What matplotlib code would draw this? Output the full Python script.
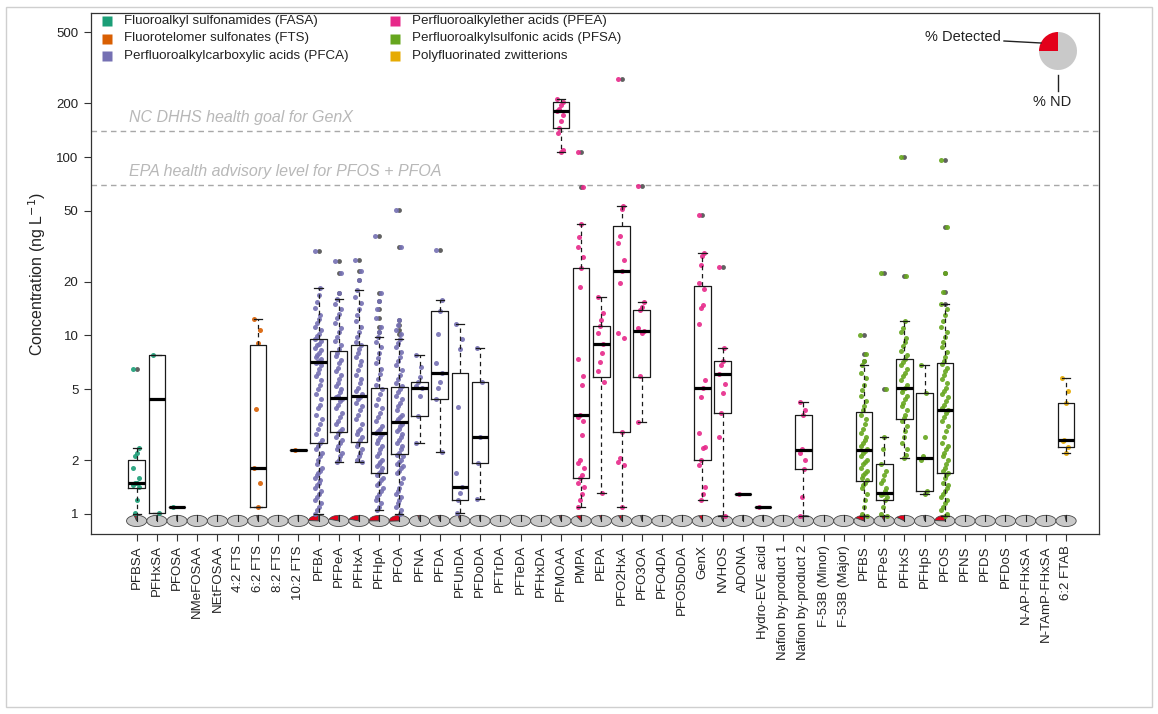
import numpy as np
import matplotlib
matplotlib.use("Agg")
import matplotlib.pyplot as plt
from matplotlib.patches import Wedge, Rectangle
from matplotlib.lines import Line2D
from matplotlib.transforms import Affine2D

plt.rcParams['font.family'] = ['Liberation Sans', 'DejaVu Sans']

# ---------------------------------------------------------------- data
compounds = [
    "PFBSA", "PFHxSA", "PFOSA", "NMeFOSAA", "NEtFOSAA",
    "4:2 FTS", "6:2 FTS", "8:2 FTS", "10:2 FTS",
    "PFBA", "PFPeA", "PFHxA", "PFHpA", "PFOA", "PFNA", "PFDA", "PFUnDA",
    "PFDoDA", "PFTrDA", "PFTeDA", "PFHxDA",
    "PFMOAA", "PMPA", "PEPA", "PFO2HxA", "PFO3OA", "PFO4DA", "PFO5DoDA",
    "GenX", "NVHOS", "ADONA", "Hydro-EVE acid", "Nafion by-product 1",
    "Nafion by-product 2", "F-53B (Minor)", "F-53B (Major)",
    "PFBS", "PFPeS", "PFHxS", "PFHpS", "PFOS", "PFNS", "PFDS", "PFDoS",
    "N-AP-FHxSA", "N-TAmP-FHxSA", "6:2 FTAB",
]

# compound class index (into class_names)
compound_class = [0] * 5 + [1] * 4 + [2] * 12 + [3] * 15 + [4] * 8 + [5] * 3

class_names = [
    "Fluoroalkyl sulfonamides (FASA)",
    "Fluorotelomer sulfonates (FTS)",
    "Perfluoroalkylcarboxylic acids (PFCA)",
    "Perfluoroalkylether acids (PFEA)",
    "Perfluoroalkylsulfonic acids (PFSA)",
    "Polyfluorinated zwitterions",
]
class_colors = ["#1b9e77", "#d95f02", "#7570b3", "#e7298a", "#66a61e", "#e6ab02"]

# share of samples with a detection
detected_frac = [
    0.04, 0.01, 0.005, 0.0, 0.0,
    0.0, 0.02, 0.0, 0.005,
    0.24, 0.20, 0.20, 0.25, 0.26, 0.03, 0.03, 0.03, 0.01, 0.0, 0.0, 0.0,
    0.03, 0.08, 0.03, 0.05, 0.02, 0.0, 0.0, 0.06, 0.03, 0.005, 0.005, 0.0,
    0.02, 0.0, 0.0,
    0.16, 0.05, 0.14, 0.02, 0.24, 0.0, 0.0, 0.0,
    0.0, 0.0, 0.02,
]

# box statistics (ng/L); None where nothing was detected
whisker_low = [
    1.0, 1.01, 1.1, None, None, None, 1.1, None, 2.28,
    1.0, 1.95, 1.95, 1.05, 1.0, 2.51, 2.21, 1.01, 1.21, None, None, None,
    107, 1.1, 1.31, 1.1, 3.29, None, None, 1.2, 0.97, 1.3, 1.1, None, 0.97,
    None, None,
    0.97, 0.97, 2.05, 1.3, 0.97, None, None, None, None, None, 2.19,
]
quartile_1 = [
    1.40, 1.01, 1.1, None, None, None, 1.1, None, 2.28,
    2.49, 2.87, 2.54, 1.70, 2.17, 3.54, 4.41, 1.2, 1.94, None, None, None,
    145, 1.585, 5.83, 2.89, 5.88, None, None, 2.01, 3.66, 1.3, 1.1, None, 1.78,
    None, None,
    1.52, 1.2, 3.41, 1.35, 1.70, None, None, None, None, None, 2.38,
]
median = [
    1.50, 4.39, 1.1, None, None, None, 1.81, None, 2.28,
    7.07, 4.45, 4.56, 2.85, 3.28, 5.06, 6.19, 1.41, 2.69, None, None, None,
    182, 3.59, 8.92, 23.1, 10.6, None, None, 5.06, 6.09, 1.3, 1.1, None, 2.28,
    None, None,
    2.28, 1.31, 5.06, 2.05, 3.83, None, None, None, None, None, 2.6,
]
quartile_3 = [
    2.0, 7.73, 1.1, None, None, None, 8.8, None, 2.28,
    9.5, 8.14, 8.9, 5.06, 5.17, 5.51, 13.8, 6.19, 5.51, None, None, None,
    204, 23.8, 11.35, 41.1, 13.9, None, None, 18.9, 7.22, 1.3, 1.1, None, 3.59,
    None, None,
    3.71, 1.9, 7.36, 4.74, 7.04, None, None, None, None, None, 4.17,
]
whisker_high = [
    2.34, 7.73, 1.1, None, None, None, 12.4, None, 2.28,
    18.5, 16.0, 18.0, 9.8, 9.6, 7.78, 15.9, 11.6, 8.48, None, None, None,
    210, 42.1, 16.5, 53.2, 15.5, None, None, 28.9, 8.48, 1.3, 1.1, None, 4.26,
    None, None,
    6.8, 2.69, 12.1, 6.83, 15.0, None, None, None, None, None, 5.75,
]

# detected concentrations (ng/L) per compound
detected_values = [
    [6.45, 2.34, 2.19, 2.1, 1.81, 1.6, 1.5, 1.5, 1.45, 1.42, 1.2, 1.01],
    [7.73, 1.01],
    [1.1],
    [], [], [],
    [12.4, 10.7, 9.1, 3.86, 1.81, 1.49, 1.1],
    [],
    [2.28],
    [29.9, 18.5, 16.8, 15.5, 14.2, 13.0, 12.4, 11.8, 11.2, 10.7, 10.2, 9.9,
     9.6, 9.3, 9.0, 8.8, 8.5, 8.3, 8.0, 7.8, 7.6, 7.4, 7.2, 7.1, 7.0, 6.8,
     6.5, 6.2, 5.9, 5.6, 5.3, 5.0, 4.7, 4.4, 4.1, 3.9, 3.6, 3.4, 3.2, 3.0,
     2.8, 2.6, 2.5, 2.4, 2.3, 2.2, 2.1, 2.0, 1.9, 1.8, 1.75, 1.7, 1.65, 1.6,
     1.55, 1.5, 1.45, 1.4, 1.35, 1.3, 1.25, 1.2, 1.15, 1.1, 1.05, 1.0],
    [26.2, 22.5, 17.2, 16.0, 15.0, 14.0, 13.2, 12.5, 11.8, 11.0, 10.4, 9.8,
     9.3, 8.8, 8.4, 8.0, 7.7, 7.3, 7.0, 6.6, 6.3, 6.0, 5.7, 5.4, 5.2, 5.0,
     4.8, 4.6, 4.5, 4.4, 4.3, 4.1, 3.9, 3.7, 3.5, 3.3, 3.2, 3.0, 2.9, 2.85,
     2.7, 2.6, 2.5, 2.4, 2.3, 2.2, 2.1, 2.0, 1.95],
    [26.6, 23.0, 20.5, 18.0, 16.5, 15.2, 14.0, 13.0, 12.0, 11.2, 10.5, 9.8,
     9.2, 8.8, 8.4, 8.0, 7.6, 7.2, 6.8, 6.4, 6.0, 5.7, 5.4, 5.1, 4.9, 4.7,
     4.55, 4.4, 4.2, 4.0, 3.8, 3.6, 3.4, 3.2, 3.0, 2.9, 2.8, 2.7, 2.6, 2.5,
     2.4, 2.3, 2.2, 2.1, 2.0, 1.95],
    [36.1, 17.4, 15.7, 14.0, 12.5, 11.2, 10.4, 9.8, 9.2, 8.6, 8.0, 7.5, 7.0,
     6.5, 6.1, 5.7, 5.3, 5.0, 4.7, 4.4, 4.1, 3.9, 3.7, 3.5, 3.3, 3.1, 3.0,
     2.9, 2.85, 2.8, 2.7, 2.6, 2.5, 2.4, 2.3, 2.2, 2.1, 2.0, 1.95, 1.9, 1.85,
     1.8, 1.75, 1.7, 1.65, 1.6, 1.55, 1.5, 1.45, 1.4, 1.35, 1.3, 1.25, 1.2,
     1.15, 1.1, 1.05],
    [50.5, 31.4, 12.2, 11.5, 10.8, 10.2, 9.6, 9.1, 8.6, 8.1, 7.6, 7.2, 6.8,
     6.4, 6.0, 5.7, 5.4, 5.2, 5.0, 4.8, 4.6, 4.4, 4.2, 4.0, 3.8, 3.6, 3.5,
     3.4, 3.3, 3.2, 3.1, 3.0, 2.9, 2.8, 2.7, 2.6, 2.5, 2.4, 2.3, 2.2, 2.15,
     2.1, 2.0, 1.95, 1.9, 1.85, 1.8, 1.75, 1.7, 1.6, 1.5, 1.4, 1.35, 1.3,
     1.25, 1.2, 1.15, 1.1, 1.05, 1.0],
    [7.78, 6.69, 5.88, 5.51, 5.2, 5.06, 4.58, 3.54, 2.51],
    [30.1, 15.9, 13.8, 10.2, 6.99, 6.19, 5.5, 5.06, 4.41, 2.21],
    [11.6, 9.52, 8.37, 3.99, 1.7, 1.41, 1.31, 1.2, 1.01],
    [8.48, 5.51, 2.69, 1.94, 1.21],
    [], [], [],
    [210, 204, 195, 186, 182, 172, 160, 145, 136, 110, 107],
    [106, 67.6, 42.1, 35.8, 31.4, 27.6, 23.8, 18.8, 7.36, 5.94, 5.28, 3.6,
     3.5, 3.3, 2.77, 2.0, 1.93, 1.8, 1.65, 1.6, 1.5, 1.42, 1.3, 1.2, 1.1],
    [16.5, 13.3, 12.2, 11.35, 10.3, 8.92, 7.93, 7.1, 6.3, 5.5, 1.31],
    [273, 53.2, 51.0, 36.0, 33.0, 26.4, 23.1, 19.7, 10.3, 9.7, 2.89, 2.06,
     1.95, 1.88, 1.1],
    [68.8, 15.5, 14.5, 13.9, 11.0, 10.6, 10.3, 5.9, 3.29],
    [], [],
    [47.3, 28.9, 28.0, 24.8, 19.8, 18.2, 14.8, 14.3, 11.6, 5.63, 5.06, 4.5,
     2.83, 2.38, 2.33, 2.01, 1.88, 1.42, 1.3, 1.2],
    [24.3, 8.48, 7.22, 6.8, 6.09, 5.34, 4.74, 3.66, 2.71, 0.97],
    [1.3],
    [1.1],
    [],
    [4.26, 3.8, 3.59, 2.3, 2.2, 2.0, 1.78, 1.25, 0.97],
    [], [],
    [10.05, 7.9, 7.2, 6.8, 6.2, 5.75, 5.3, 4.95, 4.6, 4.3, 4.0, 3.8, 3.6,
     3.4, 3.2, 3.0, 2.85, 2.7, 2.6, 2.5, 2.4, 2.3, 2.25, 2.2, 2.1, 2.0, 1.95,
     1.9, 1.8, 1.75, 1.7, 1.65, 1.6, 1.55, 1.5, 1.45, 1.4, 1.3, 1.2, 1.1,
     1.0, 0.97],
    [22.5, 5.0, 2.69, 2.3, 1.9, 1.75, 1.65, 1.55, 1.5, 1.4, 1.35, 1.3, 1.28,
     1.25, 1.2, 1.1, 1.0, 0.97],
    [99.6, 21.5, 12.1, 11.0, 10.4, 9.7, 9.2, 8.7, 8.2, 7.8, 7.4, 7.1, 6.8,
     6.5, 6.2, 5.9, 5.6, 5.3, 5.1, 5.0, 4.8, 4.6, 4.4, 4.2, 4.0, 3.8, 3.6,
     3.45, 3.3, 3.1, 2.9, 2.7, 2.5, 2.3, 2.15, 2.05],
    [6.83, 4.74, 2.71, 2.1, 2.0, 1.35, 1.3],
    [96.2, 40.7, 22.5, 17.6, 15.1, 14.0, 13.0, 12.0, 11.2, 10.4, 9.8, 9.2,
     8.6, 8.1, 7.6, 7.2, 6.9, 6.6, 6.3, 6.0, 5.7, 5.4, 5.1, 4.9, 4.7, 4.5,
     4.3, 4.1, 3.9, 3.8, 3.7, 3.5, 3.3, 3.1, 2.9, 2.7, 2.5, 2.4, 2.3, 2.2,
     2.1, 2.0, 1.9, 1.8, 1.75, 1.7, 1.65, 1.6, 1.5, 1.45, 1.4, 1.35, 1.3,
     1.25, 1.2, 1.15, 1.1, 1.05, 1.0, 0.97],
    [], [], [], [], [],
    [5.75, 4.9, 4.17, 2.6, 2.55, 2.38, 2.19],
]

y_ticks = [1, 2, 5, 10, 20, 50, 100, 200, 500]

guidelines = [140, 70]
guideline_labels = ["NC DHHS health goal for GenX",
                    "EPA health advisory level for PFOS + PFOA"]

# ---------------------------------------------------------------- figure
W, H = 1158, 714
fig = plt.figure(figsize=(W / 100, H / 100), dpi=100)
ax = fig.add_axes([91 / W, 1 - 534 / H, (1099 - 91) / W, (534 - 13) / H])
ax.set_yscale("log")
ax.set_xlim(-1.26, 48.63)
ax.set_ylim(0.772, 641)
ax.autoscale(False)

positions = np.arange(1, len(compounds) + 1)

# reference levels
for level, label in zip(guidelines, guideline_labels):
    ax.axhline(level, color="#a8a8a8", lw=1.0, ls=(0, (4, 3)), zorder=1)
    ax.text(0.62, level * 1.075, label, color="#b8b8b8", fontsize=11.5,
            style="italic", ha="left", va="bottom", zorder=1)

# box plots
stats, box_pos = [], []
for i in range(len(compounds)):
    if median[i] is None:
        continue
    vals = np.array(detected_values[i])
    fl = vals[(vals < whisker_low[i] - 1e-9) | (vals > whisker_high[i] + 1e-9)]
    stats.append(dict(med=median[i], q1=quartile_1[i], q3=quartile_3[i],
                      whislo=whisker_low[i], whishi=whisker_high[i],
                      fliers=fl))
    box_pos.append(positions[i])

ax.bxp(stats, positions=box_pos, widths=0.82, capwidths=0.41,
       manage_ticks=False,
       boxprops=dict(color="#1a1a1a", lw=0.9, zorder=5),
       medianprops=dict(color="black", lw=2.3, solid_capstyle="butt", zorder=6),
       whiskerprops=dict(color="#1a1a1a", lw=0.9, ls=(0, (3.5, 3)), zorder=5),
       capprops=dict(color="#1a1a1a", lw=0.9, zorder=5),
       flierprops=dict(marker="o", ms=3.5, mfc="#505050", mec="none",
                       alpha=0.9, zorder=3))

# jittered detections
for i, vals in enumerate(detected_values):
    if not vals:
        continue
    n = len(vals)
    offs = (((np.arange(n) * 0.7548776662) % 1.0) - 0.5) * 0.36
    ax.plot(positions[i] + offs, vals, ls="none", marker="o", ms=3.6,
            mfc=class_colors[compound_class[i]], mec="none", alpha=0.9,
            zorder=4)

# detection-frequency pies along the bottom
pie_level = 0.914
for i, f in enumerate(detected_frac):
    cx, cy = ax.transData.transform((positions[i], pie_level))
    t = Affine2D().scale(10.1, 5.6).translate(cx, cy)
    ang = 90 + 360 * f
    if f > 0:
        ax.add_patch(Wedge((0, 0), 1, 90, ang, transform=t, fc="#e3001b",
                           ec="#444444", lw=0.5, zorder=2, clip_on=False))
    ax.add_patch(Wedge((0, 0), 1, ang, 450, transform=t, fc="#c9c9c9",
                       ec="#444444", lw=0.6, zorder=2, clip_on=False))
    ax.add_line(Line2D([0, 0], [0, 1], transform=t, color="#222222", lw=0.8,
                       zorder=2, clip_on=False))

# axes styling
ax.set_xticks(positions)
ax.set_xticklabels(compounds, rotation=90, fontsize=9.5)
ax.set_yticks(y_ticks)
ax.set_yticklabels([str(v) for v in y_ticks], fontsize=9.5)
ax.minorticks_off()
ax.tick_params(axis="both", direction="out", length=5, width=0.8,
               color="#333333", labelcolor="#222222")
ax.tick_params(axis="x", pad=3)
ax.tick_params(axis="y", pad=4)
for s in ax.spines.values():
    s.set_linewidth(0.9)
    s.set_color("#333333")
ax.set_ylabel("Concentration (ng L$^{-1}$)", fontsize=11.5, color="#222222",
              labelpad=6)


def px(x, y):
    return (x / W, 1 - y / H)


# class legend
for k, (name, col) in enumerate(zip(class_names, class_colors)):
    c, r = divmod(k, 3)
    mx, my = 107 + c * 288, 21 + r * 17.5
    fig.add_artist(Line2D([px(mx, my)[0]], [px(mx, my)[1]], marker="s",
                          ms=6.5, mfc=col, mec="none", ls="none"))
    fig.text(*px(mx + 17, my), name, fontsize=9.6, va="center", ha="left",
             color="#222222")

# key for the pies
pc = np.array(px(1058, 51))
kt = (Affine2D().scale(19.0 / W, 19.0 / H).translate(*pc)
      + fig.transFigure)
fig.add_artist(Wedge((0, 0), 1, 90, 180, transform=kt, fc="#e3001b",
                     ec="none"))
fig.add_artist(Wedge((0, 0), 1, 180, 450, transform=kt, fc="#c9c9c9",
                     ec="none"))
fig.text(*px(1001, 37), "% Detected", fontsize=10.5, ha="right",
         va="center", color="#222222")
fig.add_artist(Line2D(*zip(px(1004, 41), px(1041, 43)), color="#222222",
                      lw=1.0))
fig.add_artist(Line2D(*zip(px(1058, 75), px(1058, 91)), color="#222222",
                      lw=1.0))
fig.text(*px(1052, 102), "% ND", fontsize=10.5, ha="center", va="center",
         color="#222222")

# outer frame
fig.add_artist(Rectangle(px(6, 707), (W - 12) / W, 700 / H,
                         transform=fig.transFigure, fill=False,
                         ec="#cfcfcf", lw=1.0))

fig.savefig("out.png", dpi=100)
